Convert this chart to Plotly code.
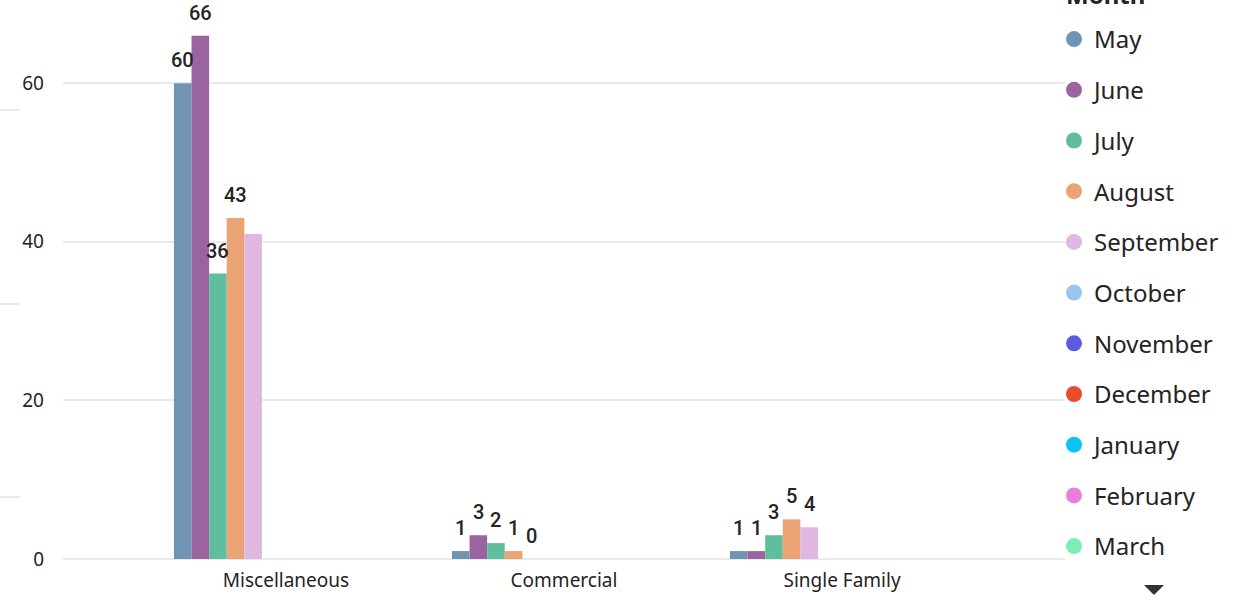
import plotly.graph_objects as go

# ---- data -------------------------------------------------------------
categories = ["Miscellaneous", "Commercial", "Single Family"]
months = ["May", "June", "July", "August", "September", "October",
          "November", "December", "January", "February", "March"]

may = [60, 1, 1]
june = [66, 3, 1]
july = [36, 2, 3]
august = [43, 1, 5]
september = [41, 0, 4]

series = {"May": may, "June": june, "July": july,
          "August": august, "September": september}

# labels that are suppressed because they would collide with a neighbour
hidden_labels = {("September", "Miscellaneous")}

colors = {
    "May": "#7095B4", "June": "#9B64A0", "July": "#5FBF9D",
    "August": "#EBA274", "September": "#DEB8E0", "October": "#98C6EE",
    "November": "#5A5BDF", "December": "#E84C2D", "January": "#09C4F3",
    "February": "#E87EE0", "March": "#7DEDB4",
}

# ---- layout geometry ----------------------------------------------------
W, H = 1236, 600
M_L, M_R, M_T, M_B = 63, 171, 0, 41
plot_w = W - M_L - M_R
plot_h = H - M_T - M_B
x_range = [-0.802, 2.802]
px_per_cat = plot_w / (x_range[1] - x_range[0])
y_range = [0, 70.5]

bar_w = 0.0633
first_offset = -0.403

text_color = "#252423"
grid_color = "#e9e9e9"

fig = go.Figure()

annotations = []
for k, m in enumerate(months):
    if m in series:
        off = first_offset + k * bar_w
        fig.add_trace(go.Bar(
            x=categories, y=series[m], name=m, legendgroup=m,
            showlegend=False, marker_color=colors[m], marker_line_width=0,
            width=bar_w, offset=off, hoverinfo="x+y+name",
        ))
        for c, v in zip(categories, series[m]):
            if (m, c) in hidden_labels:
                continue
            annotations.append(dict(
                x=c, y=v, xref="x", yref="y", text=str(v), showarrow=False,
                xshift=(off + bar_w / 2) * px_per_cat, yshift=23,
                yanchor="middle", xanchor="center",
                font=dict(family="Roboto", size=20, weight=500,
                          color=text_color),
            ))
    # round legend marker for every month
    fig.add_trace(go.Scatter(
        x=[None], y=[None], mode="markers", name=m, legendgroup=m,
        marker=dict(symbol="circle", size=16, color=colors[m]),
        hoverinfo="skip",
    ))

# legend heading, sitting at the very top edge
annotations.append(dict(
    x=(1064 - M_L) / plot_w, y=1, xref="paper", yref="paper",
    xanchor="left", yanchor="bottom", yshift=-13, showarrow=False,
    text="<b>Month</b>", font=dict(family="Noto Sans", size=24,
                                   color=text_color),
))

# small scroll indicator under the legend
fig.add_shape(
    type="path", xref="paper", yref="paper",
    xsizemode="pixel", ysizemode="pixel",
    xanchor=(1154 - M_L) / plot_w, yanchor=(H - M_B - 585) / plot_h,
    path="M-10,0 L10,0 L0,-10 Z", fillcolor="#333333", line_width=0,
)

# faint stubs along the left edge
for yy in (110, 304, 497):
    fig.add_shape(
        type="line", xref="paper", yref="paper",
        x0=-M_L / plot_w, x1=(20 - M_L) / plot_w,
        y0=(H - M_B - yy) / plot_h, y1=(H - M_B - yy) / plot_h,
        line=dict(color=grid_color, width=2),
    )

fig.update_layout(
    width=W, height=H,
    margin=dict(l=M_L, r=M_R, t=M_T, b=M_B, autoexpand=False),
    paper_bgcolor="white", plot_bgcolor="white",
    barmode="group",
    font=dict(family="Noto Sans", color=text_color),
    xaxis=dict(
        type="category", categoryorder="array", categoryarray=categories,
        range=x_range, showgrid=False, showline=False, zeroline=False,
        ticks="", tickfont=dict(size=19, color=text_color),
        ticklabelstandoff=8,
    ),
    yaxis=dict(
        range=y_range, tickvals=[0, 20, 40, 60], showgrid=True,
        gridcolor=grid_color, gridwidth=2, zeroline=True,
        zerolinecolor=grid_color, zerolinewidth=2, showline=False,
        ticks="", tickfont=dict(size=19, color=text_color),
        ticklabelstandoff=18,
    ),
    legend=dict(
        font=dict(size=24, color=text_color, family="Noto Sans"),
        x=(1054 - M_L) / plot_w, xanchor="left",
        y=1 - 17 / plot_h, yanchor="top",
        tracegroupgap=16.5, itemsizing="trace", bgcolor="rgba(0,0,0,0)",
    ),
    annotations=annotations,
    showlegend=True,
)

fig.write_html("out.html")
